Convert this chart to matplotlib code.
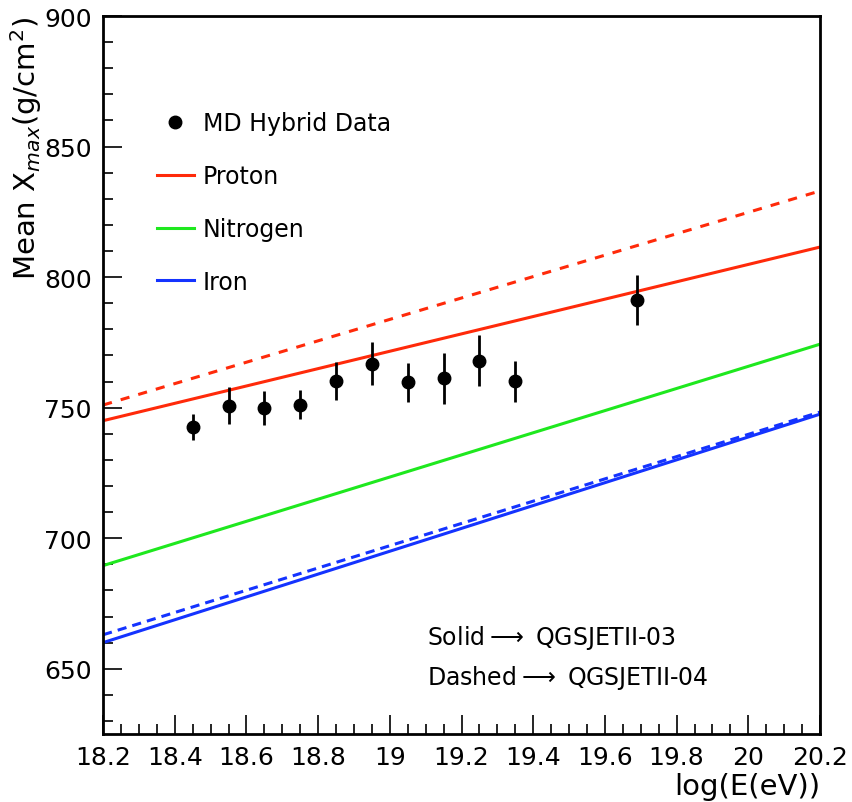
import matplotlib
matplotlib.use('Agg')
from matplotlib import pyplot as plt
from matplotlib.ticker import MultipleLocator
from matplotlib.lines import Line2D
import numpy as np

# MD hybrid data points
logE = [18.45, 18.55, 18.65, 18.75, 18.85, 18.95, 19.05, 19.15, 19.25, 19.35, 19.69]
xmax = [742.5, 750.6, 749.9, 751.2, 760.1, 766.8, 759.7, 761.3, 768.0, 760.1, 791.3]
xerr_dn = [5.0, 7.0, 6.5, 5.7, 7.2, 8.2, 7.6, 9.9, 9.8, 7.9, 9.5]
xerr_up = [5.0, 7.2, 6.5, 5.7, 7.3, 8.5, 7.4, 9.7, 10.0, 7.8, 9.5]

# model lines, endpoints at log(E) = 18.2 and 20.2
model_x = [18.2, 20.2]
proton_03 = [745.0, 811.5]
proton_04 = [751.0, 833.0]
nitrogen_03 = [689.5, 774.3]
iron_03 = [660.0, 747.5]
iron_04 = [663.0, 748.3]

red = '#ff2a0a'
green = '#1ee81e'
blue = '#1433ff'

fig = plt.figure(figsize=(8.52, 8.03), dpi=100)
ax = fig.add_axes([0.121, 0.0847, 0.8414, 0.8941])

ax.plot(model_x, proton_04, '--', color=red, lw=2.2, dashes=(3, 3))
ax.plot(model_x, iron_04, '--', color=blue, lw=2.2, dashes=(3, 2))
ax.plot(model_x, proton_03, '-', color=red, lw=2.2)
ax.plot(model_x, nitrogen_03, '-', color=green, lw=2.2)
ax.plot(model_x, iron_03, '-', color=blue, lw=2.2)

ax.errorbar(logE, xmax, yerr=[xerr_dn, xerr_up], fmt='o', color='black',
            markersize=9, elinewidth=2, capsize=0)

ax.set_xlim(18.2, 20.2)
ax.set_ylim(625, 900)

ax.xaxis.set_major_locator(MultipleLocator(0.2))
ax.xaxis.set_minor_locator(MultipleLocator(0.05))
ax.yaxis.set_major_locator(MultipleLocator(50))
ax.yaxis.set_minor_locator(MultipleLocator(10))
ax.set_xticks(np.arange(18.2, 20.21, 0.2))
ax.set_xticklabels(['18.2', '18.4', '18.6', '18.8', '19', '19.2', '19.4',
                    '19.6', '19.8', '20', '20.2'])
ax.tick_params(which='both', direction='in', top=False, right=False,
               labelsize=18, width=1.2)
ax.tick_params(which='major', length=14, pad=8)
ax.tick_params(which='minor', length=7)
for s in ax.spines.values():
    s.set_linewidth(2)

ax.set_xlabel('log(E(eV))', fontsize=21, loc='right', labelpad=2)
ax.set_ylabel(r'Mean X$_{max}$(g/cm$^{2}$)', fontsize=21, loc='top', labelpad=0)

handles = [
    Line2D([], [], marker='o', color='black', linestyle='none', markersize=9),
    Line2D([], [], color=red, lw=2.2),
    Line2D([], [], color=green, lw=2.2),
    Line2D([], [], color=blue, lw=2.2),
]
labels = ['MD Hybrid Data', 'Proton', 'Nitrogen', 'Iron']
ax.legend(handles, labels, loc='upper left', bbox_to_anchor=(0.045, 0.897),
          frameon=False, fontsize=17, handlelength=1.6, labelspacing=1.22,
          handletextpad=0.35)

ax.text(0.452, 0.126, r'Solid$\longrightarrow$ QGSJETII-03', transform=ax.transAxes,
        fontsize=17)
ax.text(0.452, 0.070, r'Dashed$\longrightarrow$ QGSJETII-04', transform=ax.transAxes,
        fontsize=17)

fig.savefig('out.png', dpi=100)
